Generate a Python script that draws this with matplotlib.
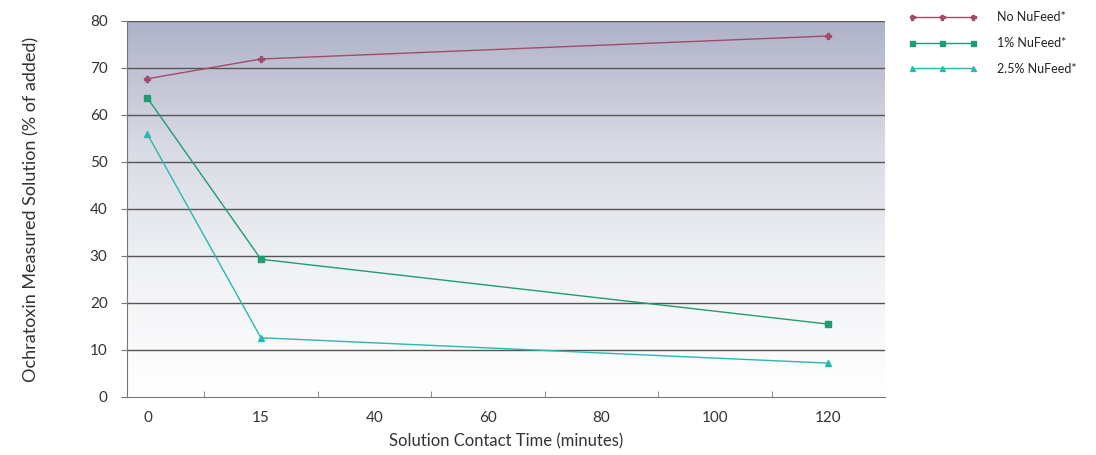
import numpy as np
import matplotlib
matplotlib.use("Agg")
import matplotlib.pyplot as plt
from matplotlib.colors import LinearSegmentedColormap

# data
time_labels = ["0", "15", "40", "60", "80", "100", "120"]
sample_times = ["0", "15", "120"]
no_nufeed = [67.7, 71.9, 76.8]
nufeed_1 = [63.6, 29.3, 15.5]
nufeed_25 = [55.9, 12.6, 7.2]

plt.rcParams["font.family"] = ["Lato", "DejaVu Sans"]

fig = plt.figure(figsize=(10.96, 4.55), dpi=100)
ax = fig.add_axes([0.1159, 0.1275, 0.6916, 0.8265])

# gradient background
cmap = LinearSegmentedColormap.from_list("bg", ["#ffffff", "#f1f2f5", "#d8dae4", "#afb2c8"])
grad = np.linspace(0, 1, 256).reshape(-1, 1)
ax.imshow(grad, cmap=cmap, extent=[0, 1, 0, 1], transform=ax.transAxes,
          aspect="auto", origin="lower", zorder=0)

x_pos = [time_labels.index(t) for t in sample_times]

ax.plot(x_pos, no_nufeed, color="#a24a6c", marker="P", markersize=4.5,
        lw=1.0, label="No NuFeed*", zorder=3)
ax.plot(x_pos, nufeed_1, color="#1f9c72", marker="s", markersize=4.5,
        lw=1.0, label="1% NuFeed*", zorder=3)
ax.plot(x_pos, nufeed_25, color="#2bb8aa", marker="^", markersize=4.5,
        lw=1.0, label="2.5% NuFeed*", zorder=3)

ax.set_xlim(-0.18, 6.5)
ax.set_ylim(0, 80)
ax.set_yticks(range(0, 81, 10))
ax.set_xticks(range(len(time_labels)))
ax.set_xticklabels(time_labels)
ax.set_xticks(np.arange(0.5, 6.5, 1), minor=True)
ax.tick_params(axis="x", which="major", length=0, pad=10, labelsize=11, colors="#333333")
ax.tick_params(axis="x", which="minor", length=4, color="#777777", direction="in")
ax.tick_params(axis="y", length=4, color="#777777", pad=10, labelsize=11, colors="#333333")

for y in range(10, 81, 10):
    ax.axhline(y, color="#555555", lw=1.0, zorder=1)

for s in ["top", "right"]:
    ax.spines[s].set_visible(False)
ax.spines["left"].set_color("#777777")
ax.spines["bottom"].set_color("#777777")

ax.set_xlabel("Solution Contact Time (minutes)", fontsize=12, color="#333333", labelpad=6)
ax.set_ylabel("Ochratoxin Measured Solution (% of added)", fontsize=13, color="#333333", labelpad=36)

fig.legend(loc="upper left", bbox_to_anchor=(0.818, 1.0), frameon=False,
           fontsize=9, handlelength=5.5, handletextpad=1.6, labelspacing=1.1,
           markerscale=0.8, numpoints=3, labelcolor="#222222")

fig.savefig("out.png", dpi=100)
